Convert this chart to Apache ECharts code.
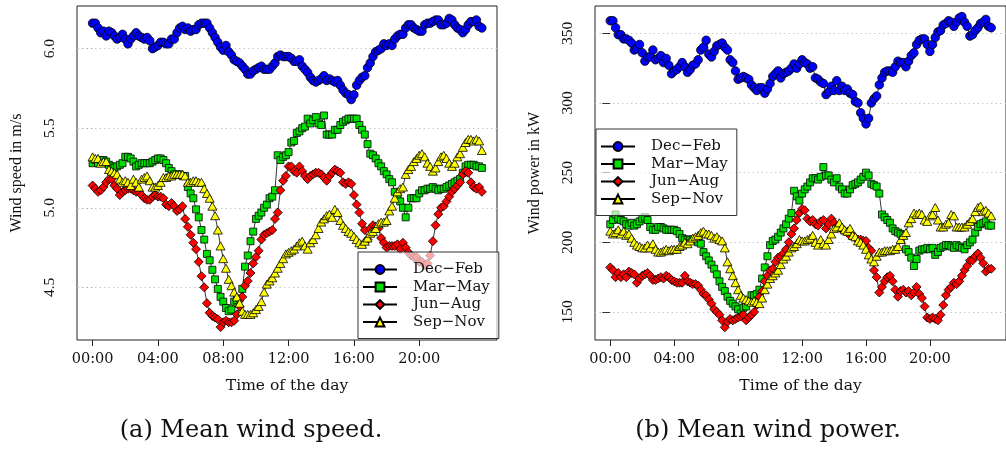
<!DOCTYPE html>
<html>
<head>
<meta charset="utf-8">
<script src="https://cdn.jsdelivr.net/npm/echarts@6/dist/echarts.min.js"></script>
<style>
  html, body { margin: 0; padding: 0; background: #fff; }
  #chart { width: 1006px; height: 450px; }
</style>
</head>
<body>
<div id="chart"></div>
<script>
// Seasonal daily profiles, one value every 10 minutes (00:00 ... 23:50)
const seasons = ['Dec−Feb', 'Mar−May', 'Jun−Aug', 'Sep−Nov'];
const hourTicks = [0, 4, 8, 12, 16, 20];
const speedTicks = [4.5, 5.0, 5.5, 6.0];
const powerTicks = [150, 200, 250, 300, 350];

// Mean wind speed (m/s)
const speedDecFeb = [
  6.16, 6.16, 6.13, 6.10, 6.11, 6.08, 6.11, 6.10, 6.08, 6.06, 6.07, 6.09,
  6.06, 6.03, 6.06, 6.08, 6.10, 6.08, 6.07, 6.06, 6.07, 6.05, 6.00, 6.01,
  6.02, 6.04, 6.04, 6.03, 6.03, 6.06, 6.06, 6.10, 6.13, 6.14, 6.12, 6.13,
  6.11, 6.12, 6.12, 6.15, 6.16, 6.16, 6.16, 6.13, 6.10, 6.07, 6.04, 6.01,
  5.99, 6.02, 5.98, 5.96, 5.93, 5.92, 5.91, 5.89, 5.87, 5.84, 5.84, 5.86,
  5.87, 5.88, 5.89, 5.87, 5.87, 5.87, 5.89, 5.91, 5.95, 5.96, 5.95, 5.95,
  5.95, 5.94, 5.92, 5.92, 5.93, 5.89, 5.87, 5.85, 5.82, 5.80, 5.79, 5.80,
  5.81, 5.83, 5.80, 5.81, 5.80, 5.79, 5.80, 5.77, 5.74, 5.72, 5.71, 5.68,
  5.71, 5.77, 5.80, 5.82, 5.83, 5.88, 5.91, 5.95, 5.98, 5.99, 6.00, 6.03,
  6.02, 6.03, 6.02, 6.06, 6.08, 6.09, 6.09, 6.13, 6.15, 6.15, 6.13, 6.12,
  6.11, 6.11, 6.15, 6.16, 6.16, 6.17, 6.18, 6.18, 6.15, 6.15, 6.16, 6.19,
  6.18, 6.15, 6.13, 6.12, 6.10, 6.12, 6.15, 6.17, 6.17, 6.18, 6.14, 6.13
];
const speedMarMay = [
  5.28, 5.30, 5.28, 5.30, 5.30, 5.29, 5.27, 5.26, 5.25, 5.26, 5.27, 5.28,
  5.32, 5.32, 5.31, 5.29, 5.26, 5.27, 5.28, 5.28, 5.28, 5.28, 5.29, 5.30,
  5.31, 5.31, 5.30, 5.28, 5.25, 5.23, 5.21, 5.21, 5.21, 5.20, 5.20, 5.13,
  5.09, 5.06, 4.99, 4.94, 4.86, 4.80, 4.71, 4.67, 4.61, 4.55, 4.49, 4.44,
  4.41, 4.37, 4.35, 4.36, 4.41, 4.42, 4.43, 4.49, 4.63, 4.70, 4.79, 4.85,
  4.93, 4.95, 4.97, 5.00, 5.02, 5.06, 5.07, 5.11, 5.33, 5.30, 5.32, 5.33,
  5.35, 5.41, 5.42, 5.47, 5.48, 5.50, 5.51, 5.56, 5.53, 5.55, 5.57, 5.53,
  5.52, 5.58, 5.46, 5.46, 5.46, 5.49, 5.49, 5.52, 5.54, 5.55, 5.56, 5.56,
  5.56, 5.56, 5.52, 5.49, 5.46, 5.40, 5.34, 5.33, 5.31, 5.28, 5.26, 5.23,
  5.21, 5.18, 5.16, 5.10, 5.07, 5.04, 5.00, 4.94, 5.00, 5.06, 5.06, 5.06,
  5.09, 5.11, 5.11, 5.12, 5.12, 5.13, 5.12, 5.11, 5.12, 5.12, 5.13, 5.14,
  5.15, 5.16, 5.17, 5.18, 5.22, 5.26, 5.27, 5.27, 5.27, 5.26, 5.26, 5.25
];
const speedJunAug = [
  5.14, 5.12, 5.10, 5.11, 5.13, 5.16, 5.18, 5.18, 5.14, 5.12, 5.08, 5.10,
  5.11, 5.12, 5.12, 5.11, 5.10, 5.10, 5.08, 5.06, 5.05, 5.05, 5.07, 5.08,
  5.07, 5.07, 5.06, 5.02, 5.01, 5.03, 5.01, 4.98, 4.99, 5.01, 4.93, 4.88,
  4.83, 4.78, 4.74, 4.66, 4.57, 4.50, 4.40, 4.34, 4.32, 4.31, 4.30, 4.25,
  4.28, 4.29, 4.28, 4.28, 4.29, 4.33, 4.38, 4.44, 4.51, 4.54, 4.59, 4.65,
  4.69, 4.73, 4.80, 4.83, 4.84, 4.85, 4.86, 4.93, 4.97, 5.11, 5.17, 5.20,
  5.26, 5.26, 5.23, 5.22, 5.26, 5.23, 5.20, 5.18, 5.20, 5.21, 5.22, 5.22,
  5.21, 5.19, 5.17, 5.20, 5.22, 5.24, 5.23, 5.22, 5.16, 5.15, 5.16, 5.15,
  5.08, 5.02, 4.97, 4.90, 4.86, 4.80, 4.87, 4.89, 4.88, 4.87, 4.81, 4.78,
  4.75, 4.76, 4.76, 4.76, 4.77, 4.74, 4.78, 4.75, 4.72, 4.70, 4.69, 4.69,
  4.66, 4.66, 4.64, 4.65, 4.70, 4.79, 4.89, 4.96, 5.00, 5.01, 5.04, 5.07,
  5.10, 5.12, 5.14, 5.16, 5.21, 5.23, 5.22, 5.16, 5.13, 5.12, 5.13, 5.10
];
const speedSepNov = [
  5.32, 5.31, 5.31, 5.28, 5.29, 5.29, 5.24, 5.23, 5.22, 5.21, 5.18, 5.16,
  5.17, 5.16, 5.14, 5.18, 5.16, 5.13, 5.18, 5.19, 5.20, 5.17, 5.13, 5.13,
  5.14, 5.16, 5.19, 5.19, 5.20, 5.20, 5.21, 5.21, 5.21, 5.21, 5.20, 5.16,
  5.16, 5.17, 5.17, 5.16, 5.16, 5.12, 5.09, 5.06, 5.01, 4.95, 4.86, 4.76,
  4.68, 4.62, 4.55, 4.51, 4.47, 4.44, 4.40, 4.35, 4.33, 4.33, 4.33, 4.34,
  4.36, 4.38, 4.41, 4.47, 4.52, 4.54, 4.56, 4.59, 4.62, 4.65, 4.68, 4.71,
  4.72, 4.73, 4.74, 4.76, 4.78, 4.79, 4.76, 4.74, 4.78, 4.80, 4.83, 4.87,
  4.91, 4.93, 4.95, 4.96, 4.94, 4.99, 4.97, 4.92, 4.89, 4.87, 4.85, 4.84,
  4.82, 4.80, 4.78, 4.77, 4.79, 4.81, 4.84, 4.85, 4.87, 4.90, 4.91, 4.91,
  4.92, 4.98, 5.01, 5.06, 5.10, 5.12, 5.13, 5.21, 5.24, 5.26, 5.29, 5.31,
  5.33, 5.34, 5.32, 5.28, 5.26, 5.23, 5.25, 5.29, 5.32, 5.33, 5.31, 5.28,
  5.26, 5.28, 5.32, 5.34, 5.38, 5.41, 5.43, 5.43, 5.42, 5.43, 5.42, 5.36
];

// Mean wind power (kW)
const powerDecFeb = [
  359, 359, 354, 349, 349, 346, 346, 345, 343, 338, 339, 342,
  336, 330, 333, 333, 338, 331, 332, 334, 329, 332, 327, 321,
  323, 324, 326, 329, 326, 322, 324, 327, 328, 331, 338, 340,
  345, 335, 333, 337, 341, 342, 343, 340, 338, 331, 329, 323,
  317, 318, 319, 318, 317, 313, 311, 309, 311, 311, 307, 310,
  314, 319, 321, 323, 318, 321, 322, 323, 325, 328, 325, 328,
  331, 329, 328, 325, 326, 318, 317, 315, 314, 306, 308, 312,
  309, 316, 309, 312, 309, 310, 307, 306, 301, 300, 293, 289,
  285, 289, 300, 303, 305, 313, 318, 322, 323, 323, 322, 326,
  330, 329, 329, 326, 330, 334, 336, 342, 345, 346, 346, 342,
  337, 342, 347, 351, 352, 356, 357, 359, 358, 355, 358, 361,
  362, 358, 355, 348, 349, 352, 354, 357, 358, 360, 355, 354
];
const powerMarMay = [
  213, 216, 220, 217, 216, 215, 213, 212, 214, 212, 213, 215,
  217, 218, 216, 211, 209, 209, 211, 211, 210, 209, 209, 209,
  209, 208, 206, 203, 202, 202, 202, 202, 201, 200, 199, 193,
  190, 187, 184, 181, 177, 172, 168, 165, 161, 158, 156, 154,
  152, 149, 153, 154, 158, 162, 162, 163, 166, 174, 182, 190,
  198, 201, 202, 204, 207, 210, 213, 217, 221, 237, 233, 230,
  235, 238, 240, 243, 246, 246, 245, 247, 254, 248, 248, 245,
  243, 246, 240, 238, 235, 235, 238, 241, 242, 243, 245, 247,
  250, 248, 242, 241, 240, 235, 220, 218, 216, 214, 210, 208,
  207, 206, 205, 195, 193, 189, 183, 188, 194, 195, 195, 196,
  195, 196, 191, 193, 196, 197, 198, 198, 197, 196, 198, 197,
  196, 195, 198, 200, 202, 207, 211, 213, 214, 215, 212, 212
];
const powerJunAug = [
  182, 180, 175, 178, 175, 177, 175, 179, 178, 177, 171, 174,
  176, 177, 178, 176, 173, 173, 174, 175, 174, 176, 175, 173,
  172, 171, 171, 171, 176, 172, 171, 170, 170, 169, 166, 163,
  162, 159, 156, 152, 150, 148, 144, 139, 143, 145, 144, 145,
  146, 147, 148, 144, 146, 148, 150, 155, 161, 165, 172, 176,
  180, 181, 186, 189, 190, 192, 195, 200, 206, 210, 216, 221,
  224, 223, 217, 215, 216, 213, 212, 215, 216, 210, 213, 217,
  214, 211, 212, 209, 208, 207, 205, 205, 203, 202, 202, 201,
  201, 196, 194, 180, 175, 164, 168, 172, 175, 176, 172, 166,
  161, 165, 166, 164, 165, 162, 164, 168, 163, 160, 154, 146,
  145, 146, 145, 144, 148, 155, 162, 166, 168, 171, 170, 172,
  176, 180, 183, 187, 187, 190, 192, 189, 185, 179, 181, 181
];
const powerSepNov = [
  208, 206, 207, 209, 206, 208, 205, 206, 203, 200, 198, 197,
  196, 196, 198, 196, 199, 195, 193, 193, 194, 195, 194, 195,
  195, 195, 197, 198, 200, 199, 201, 203, 204, 205, 207, 208,
  206, 206, 205, 203, 204, 202, 201, 196, 186, 181, 176, 171,
  166, 162, 160, 159, 158, 157, 158, 157, 156, 160, 166, 170,
  174, 176, 178, 180, 184, 188, 190, 193, 196, 197, 199, 202,
  201, 201, 202, 203, 205, 200, 198, 202, 199, 198, 202, 206,
  210, 211, 214, 211, 209, 208, 210, 205, 204, 201, 200, 198,
  195, 191, 188, 186, 190, 193, 193, 194, 194, 194, 195, 195,
  197, 202, 205, 207, 214, 217, 221, 220, 221, 220, 216, 215,
  219, 220, 225, 216, 211, 211, 213, 214, 220, 219, 211, 211,
  211, 211, 213, 215, 217, 222, 225, 226, 222, 223, 221, 219
];

// Hour of day for each 10-minute sample
const sampleHours = speedDecFeb.map((_, i) => i / 6);

const markerStyles = [
  { symbol: 'circle',   size: 8.5,        fill: '#0000ff' },
  { symbol: 'rect',     size: 7,          fill: '#00e000' },
  { symbol: 'diamond',  size: 9,          fill: '#ff0000' },
  { symbol: 'triangle', size: [9, 8],     fill: '#ffff00' }
];

const serif = 'Liberation Serif';
const wideSerif = 'DejaVu Serif';

function panelSeries(profiles, panel) {
  return profiles.map((values, k) => ({
    name: seasons[k],
    type: 'line',
    xAxisIndex: panel,
    yAxisIndex: panel,
    data: values.map((v, i) => [sampleHours[i], v]),
    symbol: markerStyles[k].symbol,
    symbolSize: markerStyles[k].size,
    showSymbol: true,
    lineStyle: { color: '#000', width: 0.8 },
    itemStyle: { color: markerStyles[k].fill, borderColor: '#000', borderWidth: 0.8 },
    emphasis: { disabled: true },
    silent: true,
    animation: false
  }));
}

function timeAxis(panel) {
  return {
    gridIndex: panel,
    type: 'value',
    min: -0.955,
    max: 24.76,
    axisLine: { show: false },
    axisTick: { show: true, length: 6, customValues: hourTicks, lineStyle: { color: '#222', width: 1 } },
    axisLabel: {
      customValues: hourTicks, margin: 12,
      fontFamily: wideSerif, fontSize: 14.5, color: '#111',
      formatter: v => String(v).padStart(2, '0') + ':00'
    },
    splitLine: { show: false },
    name: 'Time of the day',
    nameLocation: 'middle',
    nameGap: 38,
    nameTextStyle: { fontFamily: wideSerif, fontSize: 15.5, color: '#111' }
  };
}

function valueAxis(panel, min, max, ticks, digits, title, tickStyle) {
  return {
    gridIndex: panel,
    type: 'value',
    min: min,
    max: max,
    axisLine: { show: false },
    axisTick: tickStyle,
    axisLabel: {
      customValues: ticks, rotate: 90, margin: 19,
      fontFamily: serif, fontSize: 15.5, color: '#111',
      formatter: v => v.toFixed(digits)
    },
    splitLine: { show: true, lineStyle: { color: '#c8c8c8', type: [1.5, 3], width: 1 } },
    name: title,
    nameLocation: 'middle',
    nameGap: 52,
    nameTextStyle: { fontFamily: serif, fontSize: 16, color: '#111' }
  };
}

function seasonLegend(left, top) {
  return {
    orient: 'vertical',
    left: left,
    top: top,
    padding: [10, 9, 9, 4],
    itemWidth: 34,
    itemHeight: 11,
    itemGap: 2.5,
    backgroundColor: 'rgba(255,255,255,0.65)',
    borderColor: '#333',
    borderWidth: 1,
    selectedMode: false,
    textStyle: { fontFamily: wideSerif, fontSize: 15, color: '#111', padding: [0, 0, 0, 11] },
    data: seasons
  };
}

const chart = echarts.init(document.getElementById('chart'), null, { renderer: 'canvas' });

chart.setOption({
  backgroundColor: '#fff',
  animation: false,
  grid: [
    { left: 77, top: 6, width: 420, height: 334, show: true, borderColor: '#222', borderWidth: 1, backgroundColor: 'transparent' },
    { left: 595, top: 6, width: 420, height: 334, show: true, borderColor: '#222', borderWidth: 1, backgroundColor: 'transparent' }
  ],
  xAxis: [timeAxis(0), timeAxis(1)],
  yAxis: [
    valueAxis(0, 4.169, 6.268, speedTicks, 1, 'Wind speed in m/s',
      { show: true, length: 18, customValues: speedTicks, lineStyle: { color: '#b8b8b8', type: [1.5, 3], width: 1 } }),
    valueAxis(1, 129.9, 369.6, powerTicks, 0, 'Wind power in kW',
      { show: true, length: 8, customValues: powerTicks, lineStyle: { color: '#333', width: 1 } })
  ],
  legend: [seasonLegend(358, 252), seasonLegend(596, 129)],
  series: panelSeries([speedDecFeb, speedMarMay, speedJunAug, speedSepNov], 0)
    .concat(panelSeries([powerDecFeb, powerMarMay, powerJunAug, powerSepNov], 1)),
  graphic: [
    { type: 'text', x: 251, y: 431, silent: true,
      style: { text: '(a) Mean wind speed.', align: 'center', verticalAlign: 'middle', font: '24px "DejaVu Serif"', fill: '#111' } },
    { type: 'text', x: 768, y: 431, silent: true,
      style: { text: '(b) Mean wind power.', align: 'center', verticalAlign: 'middle', font: '24px "DejaVu Serif"', fill: '#111' } }
  ]
});
</script>
</body>
</html>
